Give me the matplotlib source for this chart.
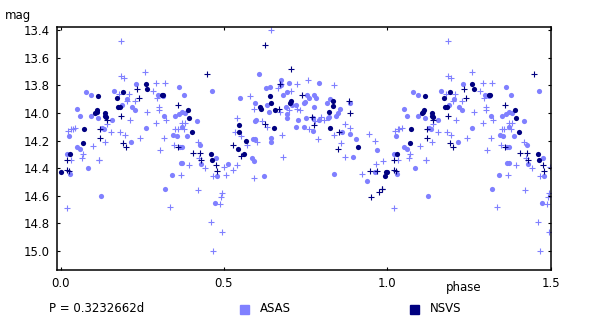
import numpy as np
import matplotlib
matplotlib.use("Agg")
import matplotlib.pyplot as plt
from matplotlib.patches import Rectangle

PERIOD_LABEL = "P = 0.3232662d"
ASAS_COLOR = "#8080FF"
NSVS_COLOR = "#000080"

# ASAS, good points (dots): phase, mag
asas_dot_phase = [0.463, 0.427, 0.429, 0.476, 0.479, 0.511, 0.474, 0.607, 0.549, 0.628,
                  0.641, 0.674, 0.675, 0.698, 0.790, 0.595, 0.632, 0.638, 0.680, 0.692,
                  0.690, 0.692, 0.692, 0.708, 0.720, 0.745, 0.747, 0.753, 0.760, 0.776,
                  0.781, 0.776, 0.725, 0.751, 0.720, 0.745, 0.773, 0.790, 0.771, 0.814,
                  0.824, 0.854, 0.849, 0.842, 0.817, 0.822, 0.860, 0.886, 0.885, 0.903,
                  0.894, 0.836, 0.594, 0.599, 0.588, 0.595, 0.643, 0.643, 0.585, 0.591,
                  0.621, 0.967, 0.939, 0.962, 0.019, 0.027, 0.029, 0.051, 0.059, 0.078,
                  0.093, 0.093, 0.114, 0.127, 0.132, 0.156, 0.164, 0.051, 0.060, 0.083,
                  0.188, 0.203, 0.215, 0.219, 0.229, 0.231, 0.260, 0.298, 0.312, 0.317,
                  0.350, 0.362, 0.378, 0.363, 0.371, 0.380, 0.344, 0.355, 0.366, 0.371,
                  0.367, 0.371, 0.124, 0.340, 0.319, 0.417, 0.373, 0.386]
asas_dot_mag = [13.84, 14.23, 14.37, 14.33, 14.46, 14.37, 14.65, 13.72, 13.89, 13.82,
                13.81, 13.76, 13.80, 13.78, 13.78, 13.93, 13.94, 13.99, 13.87, 13.85,
                13.96, 14.01, 14.04, 13.94, 13.94, 13.93, 13.92, 13.87, 13.89, 13.87,
                13.89, 13.96, 14.05, 14.04, 14.10, 14.10, 14.04, 14.05, 14.13, 13.93,
                13.90, 13.97, 14.00, 14.02, 14.04, 14.03, 14.14, 13.93, 14.15, 14.19,
                14.32, 14.44, 14.06, 14.05, 14.19, 14.19, 14.18, 14.21, 14.33, 14.35,
                14.46, 14.27, 14.49, 14.43, 14.30, 14.17, 14.44, 13.97, 14.02, 13.85,
                13.87, 14.02, 14.04, 14.11, 14.12, 14.05, 13.84, 14.25, 14.26, 14.40,
                13.94, 13.90, 14.21, 13.96, 13.98, 13.79, 14.11, 13.87, 13.88, 14.02,
                14.02, 13.81, 13.87, 14.01, 13.99, 14.00, 14.16, 14.17, 14.25, 14.25,
                14.36, 14.36, 14.60, 14.45, 14.55, 14.06, 14.10, 14.17]

# ASAS, other points (crosses)
asas_cross_phase = [0.643, 0.466, 0.495, 0.460, 0.489, 0.492, 0.495, 0.443, 0.466, 0.499,
                    0.507, 0.528, 0.541, 0.541, 0.534, 0.551, 0.579, 0.593, 0.571, 0.600,
                    0.593, 0.617, 0.632, 0.678, 0.682, 0.666, 0.674, 0.706, 0.724, 0.758,
                    0.837, 0.672, 0.700, 0.722, 0.732, 0.760, 0.777, 0.787, 0.798, 0.806,
                    0.837, 0.871, 0.887, 0.859, 0.871, 0.944, 0.963, 0.923, 0.966, 0.987,
                    0.020, 0.032, 0.119, 0.070, 0.336, 0.369, 0.394, 0.424, 0.421, 0.186,
                    0.195, 0.259, 0.293, 0.319, 0.179, 0.202, 0.208, 0.227, 0.265, 0.301,
                    0.302, 0.293, 0.324, 0.211, 0.182, 0.244, 0.316, 0.196, 0.135, 0.154,
                    0.141, 0.022, 0.032, 0.037, 0.045, 0.065, 0.099, 0.117, 0.305, 0.347,
                    0.419, 0.282, 0.296, 0.185, 0.371, 0.380, 0.350, 0.358, 0.377]
asas_cross_mag = [13.40, 15.00, 14.86, 14.79, 14.66, 14.61, 14.58, 14.40, 14.46, 14.39,
                  14.45, 14.41, 14.38, 14.04, 14.14, 14.17, 13.88, 13.97, 14.23, 14.21,
                  14.47, 14.06, 14.10, 14.16, 14.32, 13.82, 13.79, 13.84, 13.79, 13.76,
                  13.80, 13.99, 13.98, 13.97, 13.98, 14.12, 14.06, 14.19, 14.03, 14.05,
                  14.16, 14.08, 14.11, 14.22, 14.32, 14.15, 14.20, 14.44, 14.37, 14.35,
                  14.69, 14.34, 14.34, 14.30, 14.68, 14.45, 14.38, 14.33, 14.56, 13.73,
                  13.75, 13.70, 13.78, 13.78, 13.86, 13.91, 13.86, 13.91, 13.99, 13.96,
                  13.98, 14.07, 14.05, 14.05, 14.14, 14.18, 14.18, 14.16, 14.21, 14.14,
                  14.08, 14.13, 14.12, 14.12, 14.11, 14.33, 14.24, 14.34, 14.27, 14.23,
                  14.21, 13.84, 13.89, 13.48, 14.07, 14.07, 14.12, 14.12, 14.12]

# NSVS, good points (dots)
nsvs_dot_phase = [0.546, 0.546, 0.544, 0.566, 0.562, 0.460, 0.464, 0.610, 0.613, 0.641,
                  0.644, 0.656, 0.653, 0.702, 0.705, 0.835, 0.833, 0.820, 0.824, 0.909,
                  0.997, 0.994, 0.028, 0.000, 0.114, 0.105, 0.110, 0.112, 0.137, 0.137,
                  0.139, 0.072, 0.068, 0.172, 0.176, 0.183, 0.191, 0.260, 0.265, 0.311,
                  0.313, 0.389, 0.393, 0.402]
nsvs_dot_mag = [14.09, 14.14, 14.26, 14.20, 14.30, 14.30, 14.34, 13.96, 13.97, 13.88,
                13.93, 13.98, 14.11, 13.93, 13.91, 13.91, 13.95, 13.99, 14.11, 14.25,
                14.43, 14.46, 14.30, 14.43, 13.88, 14.00, 13.99, 13.98, 14.00, 14.02,
                14.03, 14.12, 14.22, 13.89, 13.96, 13.96, 13.85, 13.79, 13.83, 13.87,
                13.87, 13.98, 14.04, 14.14]

# NSVS, other points (crosses)
nsvs_cross_phase = [0.626, 0.449, 0.706, 0.672, 0.740, 0.668, 0.626, 0.769, 0.774, 0.883,
                    0.886, 0.853, 0.848, 0.528, 0.553, 0.428, 0.431, 0.476, 0.480, 0.947,
                    0.969, 0.950, 0.973, 0.982, 0.984, 0.019, 0.021, 0.027, 0.185, 0.191,
                    0.201, 0.234, 0.239, 0.120, 0.122, 0.141, 0.360, 0.360, 0.406]
nsvs_cross_mag = [13.51, 13.72, 13.68, 13.79, 13.87, 13.97, 14.08, 14.03, 14.09, 13.91,
                  14.00, 14.14, 14.26, 14.23, 14.31, 14.29, 14.34, 14.38, 14.42, 14.42,
                  14.42, 14.61, 14.57, 14.55, 14.55, 14.34, 14.41, 14.42, 14.02, 14.22,
                  14.25, 13.83, 13.89, 14.12, 14.18, 14.05, 13.94, 14.25, 14.29]


def fold(phase, mag):
    # show phase 0..1 plus a copy of 0..0.5 shifted by one cycle
    phase = np.asarray(phase); mag = np.asarray(mag)
    extra = phase < 0.5
    return np.concatenate([phase, phase[extra] + 1]), np.concatenate([mag, mag[extra]])


plt.rcParams["font.family"] = "DejaVu Sans"
fig = plt.figure(figsize=(6.0, 3.27), dpi=100)
ax = fig.add_axes([0.095, 0.174, 0.823, 0.744])

x, y = fold(asas_cross_phase, asas_cross_mag)
ax.scatter(x, y, s=14, marker="+", color=ASAS_COLOR, linewidths=0.8)
x, y = fold(asas_dot_phase, asas_dot_mag)
ax.scatter(x, y, s=14, marker="o", color=ASAS_COLOR, linewidths=0)
x, y = fold(nsvs_cross_phase, nsvs_cross_mag)
ax.scatter(x, y, s=14, marker="+", color=NSVS_COLOR, linewidths=0.8)
x, y = fold(nsvs_dot_phase, nsvs_dot_mag)
ax.scatter(x, y, s=14, marker="o", color=NSVS_COLOR, linewidths=0)

ax.set_xlim(-0.011, 1.5)
ax.set_ylim(15.139, 13.376)
ax.set_xticks([0.0, 0.5, 1.0, 1.5])
ax.set_xticklabels(["0.0", "0.5", "1.0", "1.5"])
ax.set_yticks(np.arange(13.4, 15.01, 0.2))
ax.set_yticklabels([f"{v:.1f}" for v in np.arange(13.4, 15.01, 0.2)])
ax.tick_params(direction="in", length=2.2, width=0.8, top=True, right=True,
               labelsize=8.5, pad=5)
for sp in ax.spines.values():
    sp.set_linewidth(1.1)

fig.text(5 / 600, 1 - 16 / 327, "mag", fontsize=8.5, va="center", ha="left")
fig.text(464 / 600, 1 - 287 / 327, "phase", fontsize=8.5, va="center", ha="center")
fig.text(49 / 600, 1 - 309 / 327, PERIOD_LABEL, fontsize=8.5, va="center", ha="left")

for x0, col, name in [(240, ASAS_COLOR, "ASAS"), (410, NSVS_COLOR, "NSVS")]:
    fig.patches.append(Rectangle((x0 / 600, 1 - 314 / 327), 9 / 600, 9 / 327,
                                 transform=fig.transFigure, color=col))
    fig.text((x0 + 20) / 600, 1 - 309 / 327, name, fontsize=8.5, va="center", ha="left")

fig.savefig("out.png", dpi=100)
